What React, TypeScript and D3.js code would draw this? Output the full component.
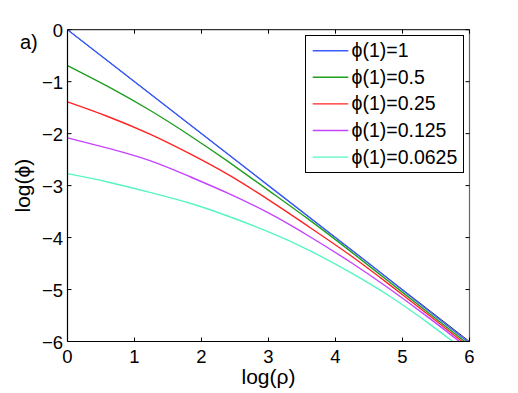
import React from "react";
import * as d3 from "d3";

const labels = ["ϕ(1)=1", "ϕ(1)=0.5", "ϕ(1)=0.25", "ϕ(1)=0.125", "ϕ(1)=0.0625"];
const colors = ["#3a5cff", "#1f9e1f", "#ff2424", "#c443ff", "#55f5c4"];

const blueX = [0, 3, 4.5, 5.97];
const blueY = [0, -3, -4.5, -6];
const greenX = [0, 0.6, 1.23, 1.83, 2.4, 3.02, 3.6, 4.22, 4.81, 5.4, 5.93];
const greenY = [-0.69, -1.09, -1.55, -2.04, -2.54, -3.11, -3.65, -4.26, -4.86, -5.46, -6];
const redX = [0, 0.6, 1.23, 1.83, 2.4, 3.02, 3.6, 4.22, 4.81, 5.4, 5.89];
const redY = [-1.39, -1.67, -2.01, -2.39, -2.79, -3.29, -3.79, -4.34, -4.91, -5.5, -6];
const purpleX = [0, 0.6, 1.23, 1.83, 2.4, 3.02, 3.6, 4.22, 4.81, 5.4, 5.85];
const purpleY = [-2.08, -2.28, -2.52, -2.83, -3.15, -3.54, -3.97, -4.47, -4.99, -5.55, -6];
const cyanX = [0, 0.6, 1.23, 1.83, 2.4, 3.02, 3.6, 4.22, 4.81, 5.4, 5.75];
const cyanY = [-2.77, -2.93, -3.13, -3.34, -3.59, -3.9, -4.24, -4.67, -5.13, -5.66, -6];

const seriesX = [blueX, greenX, redX, purpleX, cyanX];
const seriesY = [blueY, greenY, redY, purpleY, cyanY];

const xTicks = [0, 1, 2, 3, 4, 5, 6];
const yTicks = [0, -1, -2, -3, -4, -5, -6];

const W = 518;
const H = 393;
const L = 67.5, R = 469.5, T = 29.7, B = 341.5;
const FONT = "'Liberation Sans', Arial, Helvetica, 'DejaVu Sans', sans-serif";

export default function App() {
  const x = d3.scaleLinear().domain([0, 6]).range([L, R]);
  const y = d3.scaleLinear().domain([-6, 0]).range([B, T]);
  const line = d3
    .line<[number, number]>()
    .x((d) => x(d[0]))
    .y((d) => y(d[1]))
    .curve(d3.curveNatural);

  const fmt = (v: number) => (v < 0 ? "\u2212" + Math.abs(v) : String(v));

  const legX = 305.5, legY = 35.5, legW = 158, legH = 137;
  const rowY = (i: number) => 50.7 + i * 26.6;

  return (
    <svg
      width={W}
      height={H}
      style={{ position: "absolute", left: 0, top: 0, background: "#fff" }}
      fontFamily={FONT}
    >
      <rect x={0} y={0} width={W} height={H} fill="#fff" />
      <defs>
        <clipPath id="plotclip">
          <rect x={L} y={T} width={R - L} height={B - T} />
        </clipPath>
      </defs>
      <g clipPath="url(#plotclip)">
        <path d={line([[0, 0], [6, -6]])!} stroke="#000" strokeWidth={0.8} fill="none" />
        {seriesX.map((xs, i) => (
          <path
            key={i}
            d={line(xs.map((v, j) => [v, seriesY[i][j]] as [number, number]))!}
            stroke={colors[i]}
            strokeWidth={1.4}
            fill="none"
          />
        ))}
      </g>
      <line x1={L} x2={R} y1={T} y2={T} stroke="#000" strokeWidth={1} />
      <line x1={R} x2={R} y1={T} y2={B} stroke="#666" strokeWidth={1.2} />
      <line x1={L} x2={L} y1={T} y2={B} stroke="#000" strokeWidth={1.2} />
      <line x1={L} x2={R} y1={B} y2={B} stroke="#000" strokeWidth={1.2} />
      {xTicks.map((t) => (
        <g key={"x" + t}>
          <line x1={x(t)} x2={x(t)} y1={B} y2={B - 4} stroke="#000" />
          <line x1={x(t)} x2={x(t)} y1={T} y2={T + 4} stroke="#000" />
          <text x={x(t)} y={B + 21.5} textAnchor="middle" fontSize={18.5} fill="#000">
            {fmt(t)}
          </text>
        </g>
      ))}
      {yTicks.map((t) => (
        <g key={"y" + t}>
          <line x1={L} x2={L + 4} y1={y(t)} y2={y(t)} stroke="#000" />
          <line x1={R} x2={R - 4} y1={y(t)} y2={y(t)} stroke="#000" />
          <text x={63} y={y(t) + 7.3} textAnchor="end" fontSize={18.5} fill="#000">
            {fmt(t)}
          </text>
        </g>
      ))}
      <text x={268.5} y={384} textAnchor="middle" fontSize={21} fill="#000">
        log(ρ)
      </text>
      <text
        transform={`translate(${30},${(T + B) / 2}) rotate(-90)`}
        textAnchor="middle"
        fontSize={21}
        fill="#000"
      >
        log(ϕ)
      </text>
      <text x={20} y={48.5} fontSize={20} fill="#000">
        a)
      </text>
      <rect x={legX} y={legY} width={legW} height={legH} fill="#fff" stroke="#000" strokeWidth={1} />
      {labels.map((lab, i) => (
        <g key={lab}>
          <line x1={312.7} x2={348.3} y1={rowY(i)} y2={rowY(i)} stroke={colors[i]} strokeWidth={1.4} />
          <text x={351.5} y={rowY(i) + 6.5} fontSize={19.5} fill="#000">
            {lab}
          </text>
        </g>
      ))}
    </svg>
  );
}
